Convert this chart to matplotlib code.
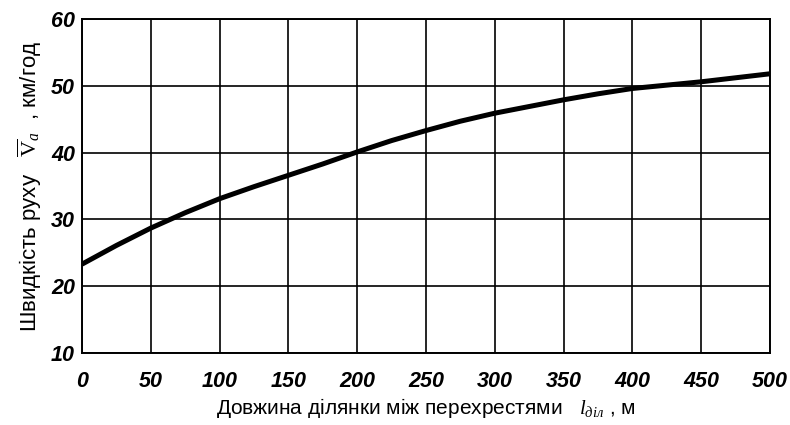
import matplotlib
matplotlib.use("Agg")
import matplotlib.pyplot as plt

# Data
length_m = [0, 25, 50, 75, 100, 125, 150, 175, 200, 225, 250,
            275, 300, 325, 350, 375, 400, 425, 450, 475, 500]
speed_kmh = [23.3, 26.1, 28.7, 31.0, 33.1, 34.9, 36.6, 38.3, 40.1, 41.8, 43.3,
             44.7, 45.9, 46.9, 47.9, 48.8, 49.6, 50.1, 50.6, 51.2, 51.8]
x_ticks = [0, 50, 100, 150, 200, 250, 300, 350, 400, 450, 500]
y_ticks = [10, 20, 30, 40, 50, 60]

plt.rcParams['font.family'] = ['Liberation Sans', 'DejaVu Sans']
plt.rcParams['mathtext.fontset'] = 'custom'
plt.rcParams['mathtext.rm'] = 'Liberation Serif'
plt.rcParams['mathtext.it'] = 'Liberation Serif:italic'

fig = plt.figure(figsize=(7.9, 4.25), dpi=100)
ax = fig.add_axes([82/790, 1 - 353/425, (770-82)/790, (353-19)/425])

ax.plot(length_m, speed_kmh, color='black', lw=3.6, solid_capstyle='butt', zorder=3)

ax.set_xlim(0, 500)
ax.set_ylim(10, 60)
ax.set_xticks(x_ticks)
ax.set_yticks(y_ticks)
ax.set_xticklabels([str(v) for v in x_ticks], fontsize=15.5, fontweight='bold', fontstyle='italic')
ax.set_yticklabels([str(v) for v in y_ticks], fontsize=15.5, fontweight='bold', fontstyle='italic')
ax.tick_params(axis='both', length=0)
ax.tick_params(axis='x', pad=13)
ax.tick_params(axis='y', pad=5)

ax.grid(True, color='black', lw=1.2)
ax.set_axisbelow(True)
for s in ax.spines.values():
    s.set_color('black')
    s.set_linewidth(1.4)

ax.set_xlabel('Довжина ділянки між перехрестями   $l_{діл}$ , м', fontsize=15, labelpad=3)
ax.set_ylabel('Швидкість руху   $\\overline{\\mathrm{V}}_{a}$  , км/год', fontsize=16, labelpad=5)

fig.savefig('out.png', dpi=100, facecolor='white')
